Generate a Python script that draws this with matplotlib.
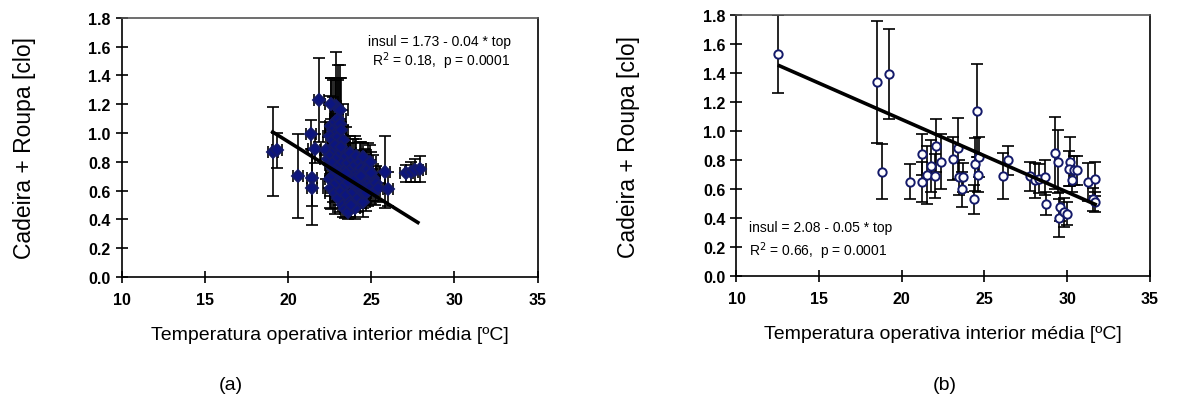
import numpy as np
from matplotlib import pyplot as plt

plt.rcParams['font.family'] = ['Liberation Sans', 'DejaVu Sans']

# (a) chair + clothing insulation vs mean indoor operative temperature
left_temp = [19.1, 19.3, 20.6, 21.35, 21.45, 21.45, 21.85, 21.6,
             22.6, 22.7, 22.8, 22.9, 23.0, 23.1, 22.5, 22.7, 23.0, 23.2, 22.9, 23.1, 22.6, 23.3,
             22.3, 22.4, 22.5, 22.6, 22.7, 22.8, 22.9, 23.0, 23.1, 23.2, 23.3, 23.4, 23.5, 23.6,
             23.7, 23.8, 23.9, 24.0, 24.1, 24.2, 24.3, 24.4, 24.5, 24.6,
             22.5, 22.6, 22.7, 22.8, 22.9, 23.0, 23.1, 23.2, 23.3, 23.4, 23.5, 23.6, 23.7, 23.8,
             23.9, 24.0, 24.1, 24.2, 24.3, 24.4, 24.5, 24.6, 24.7, 24.8, 24.9, 25.0, 25.1, 25.2,
             25.3, 25.4, 24.8, 25.0, 24.9, 23.4, 23.6, 23.8,
             23.0, 23.3, 23.6, 23.9, 24.2, 24.5, 22.8, 23.2, 23.5, 24.0, 24.4, 24.7,
             25.8, 26.0, 27.1, 27.4, 27.6, 27.9]
left_clo = [0.87, 0.88, 0.70, 0.99, 0.69, 0.62, 1.23, 0.89,
            1.05, 1.02, 1.08, 1.00, 1.10, 1.06, 0.98, 0.95, 0.97, 1.02, 1.19, 1.16, 1.20, 0.95,
            0.88, 0.82, 0.78, 0.85, 0.80, 0.88, 0.75, 0.83, 0.78, 0.86, 0.80, 0.74, 0.84, 0.79,
            0.86, 0.75, 0.81, 0.78, 0.84, 0.72, 0.80, 0.76, 0.83, 0.74,
            0.68, 0.62, 0.70, 0.58, 0.65, 0.55, 0.68, 0.60, 0.50, 0.64, 0.57, 0.70, 0.52, 0.66,
            0.59, 0.48, 0.63, 0.55, 0.68, 0.60, 0.52, 0.65, 0.70, 0.61, 0.67, 0.63, 0.69, 0.60,
            0.65, 0.62, 0.75, 0.72, 0.80, 0.47, 0.45, 0.50,
            0.72, 0.70, 0.66, 0.70, 0.64, 0.58, 0.92, 0.90, 0.72, 0.68, 0.70, 0.58,
            0.73, 0.61, 0.72, 0.73, 0.74, 0.75]
left_temp_err = [0.3, 0.3, 0.3, 0.3, 0.3, 0.3, 0.3, 0.4,
                 0.4, 0.5, 0.3, 0.4, 0.5, 0.3, 0.4, 0.3, 0.5, 0.4, 0.3, 0.5, 0.4, 0.3,
                 0.4, 0.5, 0.3, 0.6, 0.4, 0.5, 0.3, 0.4, 0.6, 0.3, 0.5, 0.4, 0.3, 0.6,
                 0.4, 0.5, 0.3, 0.4, 0.6, 0.5, 0.4, 0.3, 0.5, 0.4,
                 0.3, 0.5, 0.4, 0.6, 0.3, 0.5, 0.4, 0.3, 0.6, 0.4, 0.5, 0.3, 0.4, 0.6,
                 0.5, 0.3, 0.4, 0.6, 0.5, 0.3, 0.4, 0.5, 0.6, 0.4, 0.3, 0.5, 0.4, 0.3,
                 0.5, 0.4, 0.6, 0.5, 0.4, 0.3, 0.4, 0.5,
                 0.5, 0.4, 0.3, 0.5, 0.4, 0.3, 0.4, 0.5, 0.3, 0.4, 0.5, 0.3,
                 0.3, 0.3, 0.4, 0.4, 0.5, 0.4]
left_clo_err = [0.31, 0.12, 0.29, 0.10, 0.20, 0.26, 0.29, 0.10,
                0.33, 0.35, 0.30, 0.38, 0.37, 0.32, 0.28, 0.30, 0.40, 0.36, 0.37, 0.31, 0.18, 0.25,
                0.20, 0.15, 0.22, 0.25, 0.18, 0.20, 0.15, 0.30, 0.22, 0.18, 0.25, 0.16, 0.20, 0.14,
                0.12, 0.18, 0.15, 0.20, 0.12, 0.16, 0.14, 0.18, 0.10, 0.15,
                0.20, 0.15, 0.18, 0.14, 0.12, 0.10, 0.16, 0.12, 0.08, 0.15, 0.12, 0.18, 0.10, 0.14,
                0.12, 0.08, 0.15, 0.10, 0.14, 0.12, 0.10, 0.15, 0.18, 0.12, 0.14, 0.12, 0.16, 0.10,
                0.12, 0.10, 0.18, 0.15, 0.12, 0.06, 0.05, 0.08,
                0.15, 0.12, 0.14, 0.10, 0.12, 0.10, 0.20, 0.18, 0.12, 0.14, 0.10, 0.12,
                0.25, 0.12, 0.06, 0.07, 0.08, 0.09]
left_fit = (19.07, 27.8, 2.38, -0.072)   # x from, x to, intercept, slope (as drawn)

# (b)
right_temp = [12.5, 18.5, 19.25, 18.8, 20.5, 21.2, 21.2, 21.5, 21.8, 22.1, 22.0, 22.4,
              23.1, 23.4, 23.45, 23.65, 23.7, 24.4, 24.45, 24.55, 24.7, 24.6, 26.1, 26.4,
              27.75, 28.05, 28.3, 28.65, 28.7, 29.3, 29.45, 29.55, 29.5, 29.8, 30.0, 30.2,
              30.1, 30.4, 30.6, 30.3, 31.25, 31.7, 31.6, 31.7]
right_clo = [1.53, 1.34, 1.39, 0.72, 0.65, 0.84, 0.65, 0.70, 0.76, 0.90, 0.69, 0.79,
             0.81, 0.88, 0.68, 0.60, 0.68, 0.53, 0.77, 1.14, 0.82, 0.70, 0.69, 0.80,
             0.69, 0.66, 0.67, 0.68, 0.50, 0.85, 0.79, 0.48, 0.40, 0.44, 0.43, 0.79,
             0.74, 0.73, 0.73, 0.66, 0.65, 0.67, 0.53, 0.51]
right_clo_err = [0.27, 0.42, 0.31, 0.19, 0.12, 0.14, 0.14, 0.20, 0.18, 0.18, 0.15, 0.19,
                 0.15, 0.21, 0.12, 0.12, 0.10, 0.10, 0.18, 0.32, 0.14, 0.12, 0.16, 0.10,
                 0.10, 0.12, 0.10, 0.12, 0.08, 0.25, 0.22, 0.10, 0.13, 0.10, 0.08, 0.17,
                 0.12, 0.10, 0.10, 0.08, 0.13, 0.12, 0.08, 0.07]
right_fit = (12.6, 31.7, 2.08, -0.05)

panels = [
    dict(x=left_temp, y=left_clo, xe=left_temp_err, ye=left_clo_err, fit=left_fit,
         face='#0c1580', txt=['insul = 1.73 - 0.04 * top', 'R$^2$ = 0.18,  p = 0.0001'],
         pos=(0.935, 0.91, 0.835), ha='right', tag='(a)', tagx=0.195, ypad=38,
         rect=[0.103, 0.322, 0.351, 0.632], marker='D', ms=6.5),
    dict(x=right_temp, y=right_clo, xe=None, ye=right_clo_err, fit=right_fit,
         face='white', txt=['insul = 2.08 - 0.05 * top', 'R$^2$ = 0.66,  p = 0.0001'],
         pos=(0.03, 0.19, 0.10), ha='left', tag='(b)', tagx=0.798, ypad=45,
         rect=[0.622, 0.324, 0.349, 0.637], marker='o', ms=6),
]

fig = plt.figure(figsize=(11.84, 4.10), dpi=100)
for p in panels:
    ax = fig.add_axes(p['rect'])
    ax.errorbar(p['x'], p['y'], xerr=p['xe'], yerr=p['ye'], fmt='none',
                ecolor='black', elinewidth=1.2, capsize=4.5, capthick=1.2, zorder=2)
    ax.plot(p['x'], p['y'], linestyle='none', marker=p['marker'], ms=p['ms'],
            mfc=p['face'], mec='#141a6a', mew=1.4, zorder=3)
    x0, x1, b0, b1 = p['fit']
    xs = np.array([x0, x1])
    ax.plot(xs, b0 + b1 * xs, color='black', lw=2.6, zorder=4)
    tx, ty1, ty2 = p['pos']
    ax.text(tx, ty1, p['txt'][0], transform=ax.transAxes, ha=p['ha'], va='center', fontsize=10)
    ax.text(tx, ty2, p['txt'][1], transform=ax.transAxes, ha=p['ha'], va='center', fontsize=10)

    ax.set_xlim(10, 35)
    ax.set_ylim(0, 1.8)
    ax.set_xticks([10, 15, 20, 25, 30, 35])
    ax.set_yticks(np.arange(0, 1.81, 0.2))
    ax.set_yticklabels([f'{v:.1f}' for v in np.arange(0, 1.81, 0.2)])
    ax.tick_params(direction='inout', length=9, width=1.2, labelsize=11.5)
    ax.tick_params(axis='x', pad=6)
    for lab in ax.get_xticklabels() + ax.get_yticklabels():
        lab.set_fontweight('bold')
    for s in ax.spines.values():
        s.set_linewidth(1.2)
    ax.spines['top'].set_color('#555555')
    ax.set_ylabel('Cadeira + Roupa [clo]', fontsize=16.5, labelpad=p['ypad'])
    ax.set_xlabel('Temperatura operativa interior média [ºC]', fontsize=14, labelpad=14)
    fig.text(p['tagx'], 0.06, p['tag'], ha='center', va='center', fontsize=14)

fig.savefig('out.png', dpi=100)
